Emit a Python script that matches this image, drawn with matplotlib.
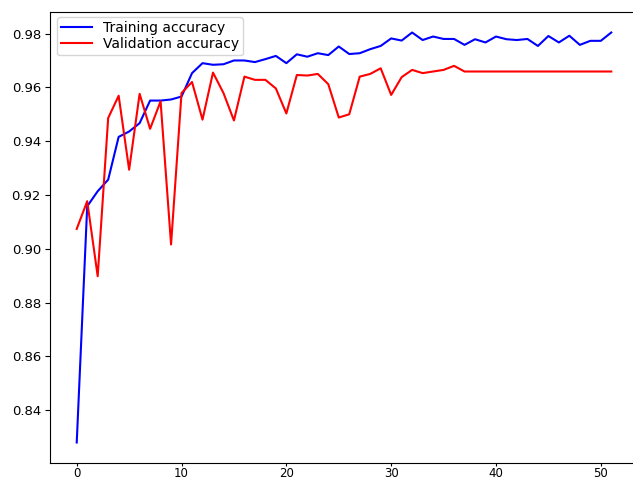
import matplotlib
matplotlib.use("Agg")
import matplotlib.pyplot as plt

epochs = list(range(52))
train_acc = [0.8280, 0.9158, 0.9214, 0.9257, 0.9416, 0.9436, 0.9467, 0.9551, 0.9551, 0.9555,
             0.9566, 0.9653, 0.9690, 0.9684, 0.9686, 0.9700, 0.9700, 0.9694, 0.9705, 0.9717,
             0.9690, 0.9723, 0.9714, 0.9727, 0.9720, 0.9752, 0.9724, 0.9727, 0.9742, 0.9754,
             0.9782, 0.9774, 0.9804, 0.9776, 0.9789, 0.9780, 0.9780, 0.9758, 0.9779, 0.9767,
             0.9789, 0.9779, 0.9776, 0.9780, 0.9754, 0.9791, 0.9767, 0.9792, 0.9758, 0.9773,
             0.9773, 0.9804]
val_acc = [0.9074, 0.9177, 0.8898, 0.9486, 0.9569, 0.9294, 0.9576, 0.9446, 0.9548, 0.9016,
           0.9579, 0.9620, 0.9480, 0.9655, 0.9579, 0.9477, 0.9640, 0.9628, 0.9628, 0.9596,
           0.9503, 0.9646, 0.9644, 0.9650, 0.9612, 0.9488, 0.9500, 0.9640, 0.9650, 0.9671,
           0.9572, 0.9638, 0.9665, 0.9653, 0.9659, 0.9665, 0.9680, 0.9659, 0.9659, 0.9659,
           0.9659, 0.9659, 0.9659, 0.9659, 0.9659, 0.9659, 0.9659, 0.9659, 0.9659, 0.9659,
           0.9659, 0.9659]

fig = plt.figure(figsize=(6.33, 4.8), dpi=100)
ax = fig.add_axes([50 / 633, 17 / 480, 588 / 633, 451 / 480])
ax.plot(epochs, train_acc, color="blue", label="Training accuracy")
ax.plot(epochs, val_acc, color="red", label="Validation accuracy")
ax.tick_params(axis="x", labelsize=8.5, pad=1, length=2)
ax.tick_params(axis="y", labelsize=9.5, length=3.5, pad=3)
ax.legend(loc="upper left", bbox_to_anchor=(7 / 588, 1 - 5 / 451), borderaxespad=0,
          fontsize=10, borderpad=0.3, labelspacing=0.15, handlelength=2.2,
          handletextpad=0.8)
fig.savefig("out.png", dpi=100)
